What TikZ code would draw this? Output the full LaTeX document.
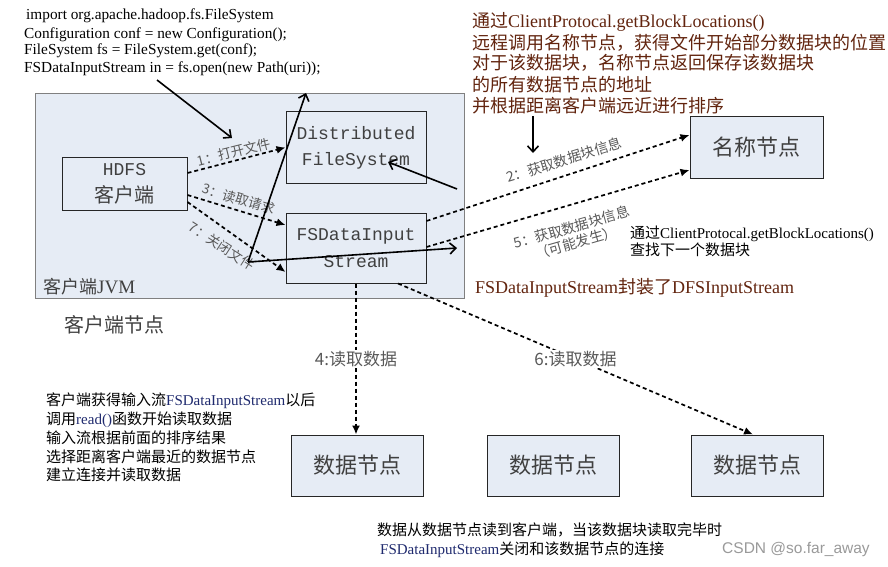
\documentclass[tikz,border=0pt]{standalone}
\usepackage{fontspec}
\setmainfont{Liberation Serif}
\setmonofont{Liberation Mono}
\newfontfamily\cjk{Noto Sans CJK SC}
\newfontfamily\sansf{Liberation Sans}
\usetikzlibrary{arrows.meta}
\definecolor{boxfill}{HTML}{E6ECF5}
\definecolor{txtgray}{HTML}{404040}
\definecolor{lblgray}{HTML}{595959}
\definecolor{darkred}{HTML}{62240E}
\definecolor{navyt}{HTML}{1F2A6E}
\definecolor{jvmborder}{HTML}{808080}
\definecolor{markgray}{HTML}{9A9A9A}
\newcommand{\fsz}[2]{\fontsize{#1}{#2}\selectfont}
\begin{document}
\begin{tikzpicture}[x=1pt,y=-1pt,
  nodebox/.style={draw=black!85,line width=1pt,fill=boxfill,inner sep=0pt,text=txtgray,align=center},
  dasharrow/.style={line width=1.7pt,dash pattern=on 4pt off 3pt,-{Latex[length=9pt,width=8pt]}},
  solidarrow/.style={line width=1.6pt,-{Straight Barb[length=6pt,width=11pt]}},
  linetext/.style={anchor=base west,inner sep=0pt},
  edgelabel/.style={text=lblgray,inner sep=1pt,font=\cjk\fsz{13.5}{15}},
  readlabel/.style={fill=white,inner sep=1pt,text=lblgray,font=\cjk\fsz{17}{20}}
]
\fill[white] (0,0) rectangle (888,567);
\useasboundingbox (0,0) rectangle (888,567);

% client JVM
\node[nodebox,draw=jvmborder,minimum width=429pt,minimum height=204pt] (jvm) at (249.5,196) {};
\node[linetext,text=txtgray] (jvmlabel) at (43,293.5) {{\cjk\fsz{18}{20}客户端}{\fsz{19}{20}JVM}};
\node[text=txtgray,font=\cjk\fsz{20}{24}] (clientnode) at (114,325) {客户端节点};

% boxes
\node[nodebox,minimum width=125pt,minimum height=53pt,font=\fsz{18}{27}] (hdfs) at (124.5,183.5) {{\ttfamily HDFS}\\{\cjk\fsz{20}{27}客户端}};
\node[nodebox,minimum width=140pt,minimum height=71pt,font=\ttfamily\fsz{18}{26}] (dfs) at (356,147.5) {Distributed\\FileSystem};
\node[nodebox,minimum width=140pt,minimum height=70pt,font=\ttfamily\fsz{18}{27}] (fsd) at (356,248) {FSDataInput\\Stream};
\node[nodebox,minimum width=133pt,minimum height=61pt,font=\cjk\fsz{22}{26}] (name) at (756.5,147.5) {名称节点};
\node[nodebox,minimum width=132pt,minimum height=61pt,font=\cjk\fsz{22}{26}] (dn1) at (357,465.5) {数据节点};
\node[nodebox,minimum width=132pt,minimum height=61pt,font=\cjk\fsz{22}{26}] (dn2) at (553,465.5) {数据节点};
\node[nodebox,minimum width=132pt,minimum height=61pt,font=\cjk\fsz{22}{26}] (dn3) at (757,465.5) {数据节点};

% code text
\node[linetext,font=\fsz{15.3}{17}] (code1) at (26,20) {import org.apache.hadoop.fs.FileSystem};
\node[linetext,font=\fsz{15.3}{17}] (code2) at (24,39) {Configuration conf = new Configuration();};
\node[linetext,font=\fsz{15.3}{17}] (code3) at (24,55) {FileSystem fs = FileSystem.get(conf);};
\node[linetext,font=\fsz{15.3}{17}] (code4) at (24,73) {FSDataInputStream in = fs.open(new Path(uri));};

% top right note
\node[linetext,text=darkred,font=\fsz{18}{21}] (n1) at (472,27.5) {{\cjk 通过}ClientProtocal.getBlockLocations()};
\node[linetext,text=darkred,font=\cjk\fsz{18}{21}] (n2) at (472,49.5) {远程调用名称节点，获得文件开始部分数据块的位置};
\node[linetext,text=darkred,font=\cjk\fsz{18}{21}] (n3) at (472,69.5) {对于该数据块，名称节点返回保存该数据块};
\node[linetext,text=darkred,font=\cjk\fsz{18}{21}] (n4) at (472,91.5) {的所有数据节点的地址};
\node[linetext,text=darkred,font=\cjk\fsz{18}{21}] (n5) at (472,112.5) {并根据距离客户端远近进行排序};

% middle note
\node[linetext,font=\fsz{15}{18}] (m1) at (630,238.5) {{\cjk 通过}ClientProtocal.getBlockLocations()};
\node[linetext,font=\cjk\fsz{15}{18}] (m2) at (630,255.5) {查找下一个数据块};
\node[linetext,text=darkred,font=\fsz{18}{21}] (wrap) at (475,293.5) {FSDataInputStream{\cjk 封装了}DFSInputStream};

% left note
\node[linetext,font=\fsz{15}{18}] (l1) at (46,405.5) {{\cjk 客户端获得输入流}{\color{navyt}FSDataInputStream}{\cjk 以后}};
\node[linetext,font=\fsz{15}{18}] (l2) at (46,424.5) {{\cjk 调用}{\color{navyt}read()}{\cjk 函数开始读取数据}};
\node[linetext,font=\cjk\fsz{15}{18}] (l3) at (46,443.5) {输入流根据前面的排序结果};
\node[linetext,font=\cjk\fsz{15}{18}] (l4) at (46,462.5) {选择距离客户端最近的数据节点};
\node[linetext,font=\cjk\fsz{15}{18}] (l5) at (46,480.5) {建立连接并读取数据};

% bottom note
\node[linetext,font=\cjk\fsz{15}{18}] (b1) at (377,535.5) {数据从数据节点读到客户端，当该数据块读取完毕时};
\node[linetext,font=\fsz{15}{18}] (b2) at (380,554.5) {{\color{navyt}FSDataInputStream}{\cjk 关闭和该数据节点的连接}};
\node[font=\sansf\fsz{15.5}{18},text=markgray] (mark) at (796,549) {CSDN @so.far\_away};

% dashed arrows
\draw[dasharrow] ([yshift=10.5pt]hdfs.east) -- (dfs.west);
\draw[dasharrow] ([yshift=-11.5pt]hdfs.east) -- ([yshift=23pt]fsd.west);
\draw[dasharrow] ([yshift=-18.5pt]hdfs.east) -- ([yshift=-24pt]fsd.west);
\draw[dasharrow] ([yshift=27pt]fsd.east) -- ([yshift=12.5pt]name.west);
\draw[dasharrow] ([yshift=1pt]fsd.east) -- ([yshift=-22.5pt]name.west);
\draw[dasharrow] (fsd.south) -- (fsd.south |- dn1.north) node[readlabel,pos=0.5] {4:读取数据};
\draw[dasharrow] ([xshift=42pt]fsd.south) -- ([xshift=-4pt]dn3.north) node[readlabel,pos=0.5] {6:读取数据};

% edge labels
\node[edgelabel,rotate=14] (lab1) at (234,152) {1：打开文件};
\node[edgelabel,rotate=-17] (lab3) at (239,199) {3：读取请求};
\node[edgelabel,rotate=-33] (lab7) at (222,246) {7：关闭文件};
\node[edgelabel,rotate=17,font=\cjk\fsz{14}{16}] (lab2) at (564,160) {2：获取数据块信息};
\node[edgelabel,rotate=16,font=\cjk\fsz{14}{16},align=center] (lab5) at (574,235) {5：获取数据块信息\\（可能发生）};

% solid arrows
\coordinate (codeS) at (157,80);
\coordinate (codeE) at (232,138);
\coordinate (noteS) at (533,116);
\coordinate (noteE) at (533,153);
\coordinate (dfsS) at (457,189);
\coordinate (dfsE) at (388,162);
\coordinate (vtx) at (248,262);
\coordinate (vtop) at (306,93);
\coordinate (vright) at (457,248);
\draw[solidarrow] (codeS) -- (codeE);
\draw[solidarrow] (noteS) -- (noteE);
\draw[solidarrow] (dfsS) -- (dfsE);
\draw[solidarrow] (vtx) -- (vtop);
\draw[solidarrow] (vtx) -- (vright);
\end{tikzpicture}
\end{document}
